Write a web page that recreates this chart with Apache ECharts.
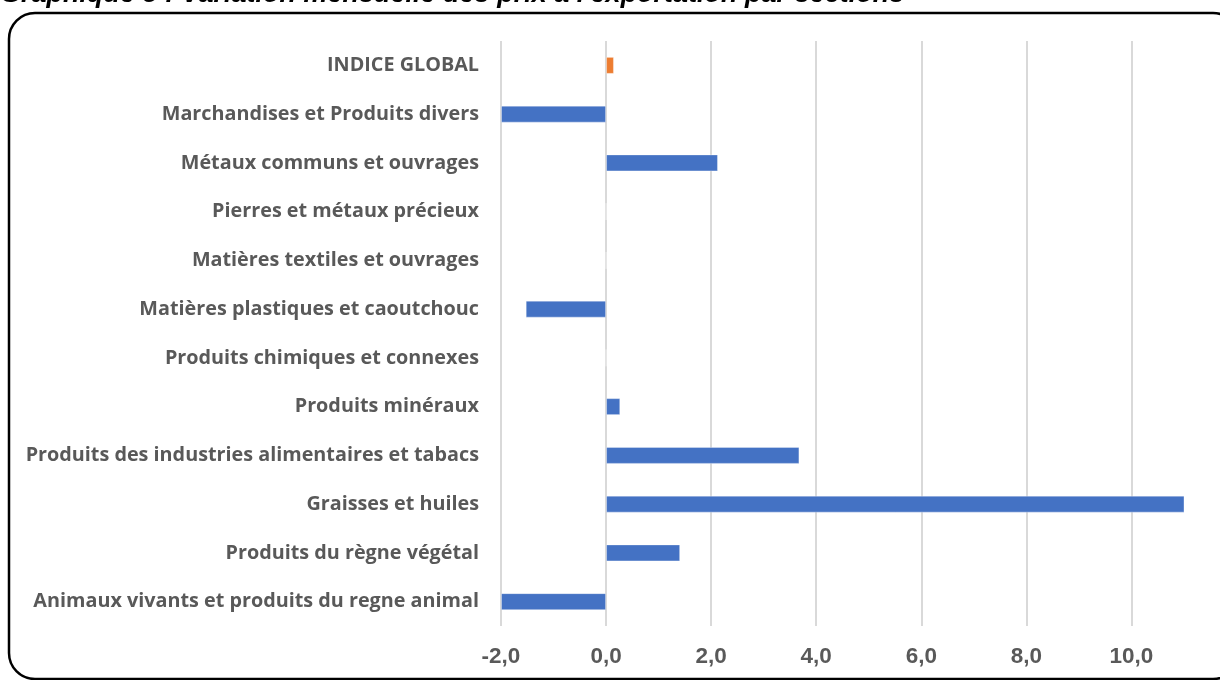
<!DOCTYPE html>
<html>
<head>
<meta charset="utf-8">
<script src="https://cdn.jsdelivr.net/npm/echarts@6/dist/echarts.min.js"></script>
<style>
html,body{margin:0;padding:0;background:#fff;}
#main{width:1220px;height:680px;}
</style>
</head>
<body>
<div id="main"></div>
<script>
const titleText = "Graphique 5 : Variation mensuelle des prix à l'exportation par sections";
const categories = [
  "Animaux vivants et produits du regne animal",
  "Produits du règne végétal",
  "Graisses et huiles",
  "Produits des industries alimentaires et tabacs",
  "Produits minéraux",
  "Produits chimiques et connexes",
  "Matières plastiques et caoutchouc",
  "Matières textiles et ouvrages",
  "Pierres et métaux précieux",
  "Métaux communs et ouvrages",
  "Marchandises et Produits divers",
  "INDICE GLOBAL"
];
const values = [-2.0, 1.41, 11.1, 3.68, 0.27, 0, -1.53, 0, 0, 2.13, -2.0, 0.15];
const highlight = "INDICE GLOBAL";
const axisMin = -2, axisMax = 11, axisInterval = 2;

const chart = echarts.init(document.getElementById('main'));
chart.setOption({
  animation: false,
  backgroundColor: '#ffffff',
  graphic: [
    {
      type: 'rect',
      shape: { x: 9, y: 13, width: 1230, height: 666, r: 26 },
      style: { fill: 'none', stroke: '#000', lineWidth: 2.5 },
      silent: true
    },
    {
      type: 'text',
      left: 0, top: -19,
      style: {
        text: titleText,
        font: 'italic bold 27px "Liberation Sans", Arial, sans-serif',
        fill: '#000'
      }
    }
  ],
  grid: { left: 501, right: 36, top: 41, bottom: 54, containLabel: false },
  xAxis: {
    type: 'value',
    min: axisMin, max: axisMax, interval: axisInterval,
    axisLine: { show: false },
    axisTick: { show: false },
    splitLine: { show: true, showMaxLine: false, lineStyle: { color: '#d9d9d9', width: 2 } },
    axisLabel: {
      margin: 19,
      color: '#595959',
      fontSize: 22.5,
      fontWeight: 'bold',
      fontFamily: '"Liberation Sans Narrow", "Liberation Sans", Arial, sans-serif',
      formatter: v => (v > 10.5 ? '' : v.toFixed(1).replace('.', ','))
    }
  },
  yAxis: {
    type: 'category',
    data: categories,
    axisLine: { show: false },
    axisTick: { show: false },
    splitLine: { show: false },
    axisLabel: {
      margin: 22,
      color: '#595959',
      fontSize: 19.8,
      fontWeight: 'bold',
      fontFamily: '"Open Sans", sans-serif'
    }
  },
  series: [{
    type: 'bar',
    barWidth: 17,
    data: values.map((v, i) => ({
      value: v,
      itemStyle: { color: categories[i] === highlight ? '#ed7d31' : '#4472c4' }
    })),
    itemStyle: { borderColor: 'rgba(255,255,255,0.35)', borderWidth: 1 }
  }]
});
</script>
</body>
</html>
